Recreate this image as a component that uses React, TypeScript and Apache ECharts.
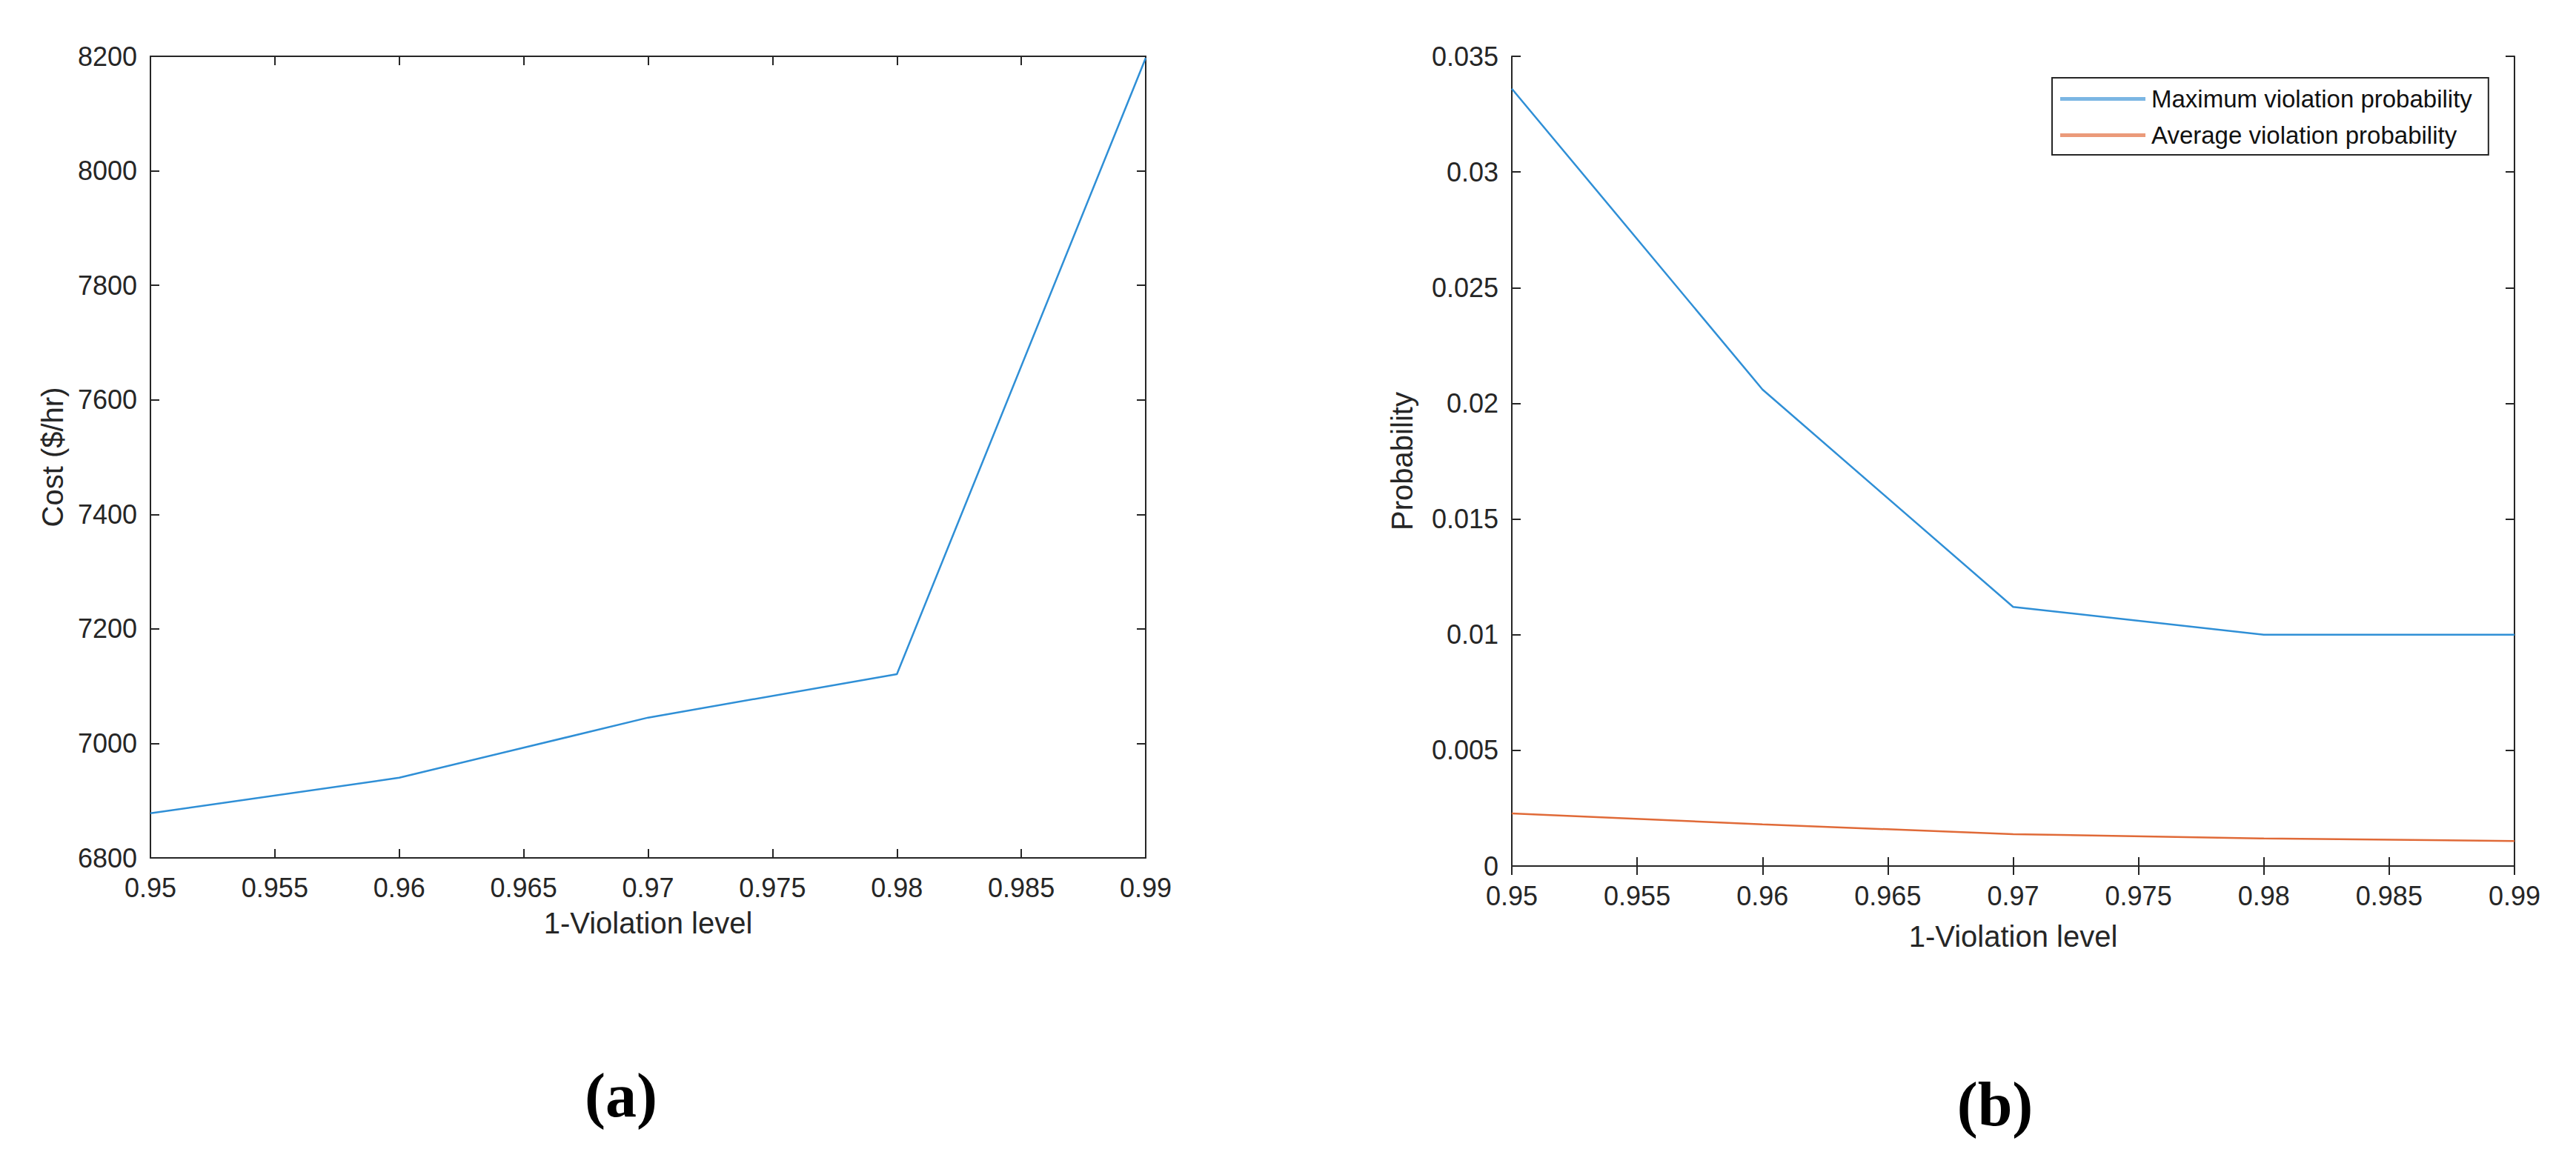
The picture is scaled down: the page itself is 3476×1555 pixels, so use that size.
import React, { useEffect, useRef } from "react";
import * as echarts from "echarts";

// ---- data ----
const violationLevels = [0.95, 0.96, 0.97, 0.98, 0.99];
const costValues = [6878, 6940, 7045, 7121, 8197];
const maxViolationProb = [0.0336, 0.0206, 0.0112, 0.01, 0.01];
const avgViolationProb = [0.00227, 0.0018, 0.00138, 0.00119, 0.00108];

const xMin = 0.95;
const xMax = 0.99;
const xStep = 0.005;
const costMin = 6800;
const costMax = 8200;
const costStep = 200;
const probMin = 0;
const probMax = 0.035;
const probStep = 0.005;

const seriesNames = ["Maximum violation probability", "Average violation probability"];
const panelLabels = ["(a)", "(b)"];
const xAxisTitle = "1-Violation level";
const costAxisTitle = "Cost ($/hr)";
const probAxisTitle = "Probability";

const FONT = '"Liberation Sans", Arial, Helvetica, sans-serif';
const AX = "#262626";
const BLUE = "#2f8fd6";
const ORANGE = "#e06a38";

const fmt = (v: number) => String(parseFloat(Number(v).toFixed(4)));

function pairs(xs: number[], ys: number[]) {
  return xs.map((x, i) => [x, ys[i]]);
}

export default function App() {
  const ref = useRef<HTMLDivElement>(null);

  useEffect(() => {
    if (!ref.current) return;
    const chart = echarts.init(ref.current, null, { renderer: "svg" });

    const axisLine = { show: true, lineStyle: { color: AX, width: 2 } };
    const axisTick = { show: true, inside: true, length: 12, lineStyle: { color: AX, width: 2 } };
    const labelStyle = { color: AX, fontSize: 36, fontFamily: FONT };
    const nameStyle = { color: AX, fontSize: 40, fontFamily: FONT };

    const xAxisPair = (grid: number, nameGap: number) => [
      {
        type: "value",
        gridIndex: grid,
        position: "bottom",
        min: xMin,
        max: xMax,
        interval: xStep,
        axisLine,
        axisTick,
        splitLine: { show: false },
        axisLabel: { ...labelStyle, margin: 22, formatter: fmt, showMinLabel: true, showMaxLabel: true },
        name: xAxisTitle,
        nameLocation: "middle",
        nameGap,
        nameTextStyle: nameStyle,
      },
      {
        type: "value",
        gridIndex: grid,
        position: "top",
        min: xMin,
        max: xMax,
        interval: xStep,
        axisLine,
        axisTick,
        splitLine: { show: false },
        axisLabel: { show: false },
      },
    ];

    const yAxisPair = (
      grid: number,
      min: number,
      max: number,
      step: number,
      title: string,
      nameGap: number
    ) => [
      {
        type: "value",
        gridIndex: grid,
        position: "left",
        min,
        max,
        interval: step,
        axisLine,
        axisTick,
        splitLine: { show: false },
        axisLabel: { ...labelStyle, margin: 18, formatter: fmt, showMinLabel: true, showMaxLabel: true },
        name: title,
        nameLocation: "middle",
        nameGap,
        nameTextStyle: nameStyle,
      },
      {
        type: "value",
        gridIndex: grid,
        position: "right",
        min,
        max,
        interval: step,
        axisLine,
        axisTick,
        splitLine: { show: false },
        axisLabel: { show: false },
      },
    ];

    const option: any = {
      animation: false,
      backgroundColor: "#ffffff",
      grid: [
        { left: 203, top: 76, width: 1343, height: 1082, containLabel: false },
        { left: 2040, top: 76, width: 1353, height: 1093, containLabel: false },
      ],
      xAxis: [...xAxisPair(0, 68), ...xAxisPair(1, 75)],
      yAxis: [
        ...yAxisPair(0, costMin, costMax, costStep, costAxisTitle, 112),
        ...yAxisPair(1, probMin, probMax, probStep, probAxisTitle, 128),
      ],
      legend: {
        data: seriesNames,
        orient: "vertical",
        left: 2769,
        top: 105,
        padding: [12, 22, 10, 11],
        icon: "rect",
        itemWidth: 115,
        itemHeight: 5,
        itemGap: 16,
        borderColor: AX,
        borderWidth: 2,
        backgroundColor: "#ffffff",
        textStyle: { color: "#111", fontSize: 33, fontFamily: FONT, padding: [0, 0, 0, 3] },
      },
      series: [
        {
          name: "Cost",
          type: "line",
          xAxisIndex: 0,
          yAxisIndex: 0,
          symbol: "none",
          lineStyle: { color: BLUE, width: 2.5 },
          itemStyle: { color: BLUE },
          data: pairs(violationLevels, costValues),
        },
        {
          name: seriesNames[0],
          type: "line",
          xAxisIndex: 2,
          yAxisIndex: 2,
          symbol: "none",
          lineStyle: { color: BLUE, width: 2.5 },
          itemStyle: { color: "#7bb6e3" },
          data: pairs(violationLevels, maxViolationProb),
        },
        {
          name: seriesNames[1],
          type: "line",
          xAxisIndex: 2,
          yAxisIndex: 2,
          symbol: "none",
          lineStyle: { color: ORANGE, width: 2.5 },
          itemStyle: { color: "#eb9a7a" },
          data: pairs(violationLevels, avgViolationProb),
        },
      ],
      graphic: [
        {
          type: "text",
          x: 838,
          y: 1478,
          style: {
            text: panelLabels[0],
            font: 'bold 84px "Liberation Serif", "Times New Roman", serif',
            fill: "#000",
            textAlign: "center",
            textVerticalAlign: "middle",
          },
        },
        {
          type: "text",
          x: 2692,
          y: 1490,
          style: {
            text: panelLabels[1],
            font: 'bold 84px "Liberation Serif", "Times New Roman", serif',
            fill: "#000",
            textAlign: "center",
            textVerticalAlign: "middle",
          },
        },
      ],
    };

    chart.setOption(option);
    return () => chart.dispose();
  }, []);

  return (
    <div
      ref={ref}
      style={{ position: "absolute", left: 0, top: 0, width: 3476, height: 1555, background: "#fff" }}
    />
  );
}
